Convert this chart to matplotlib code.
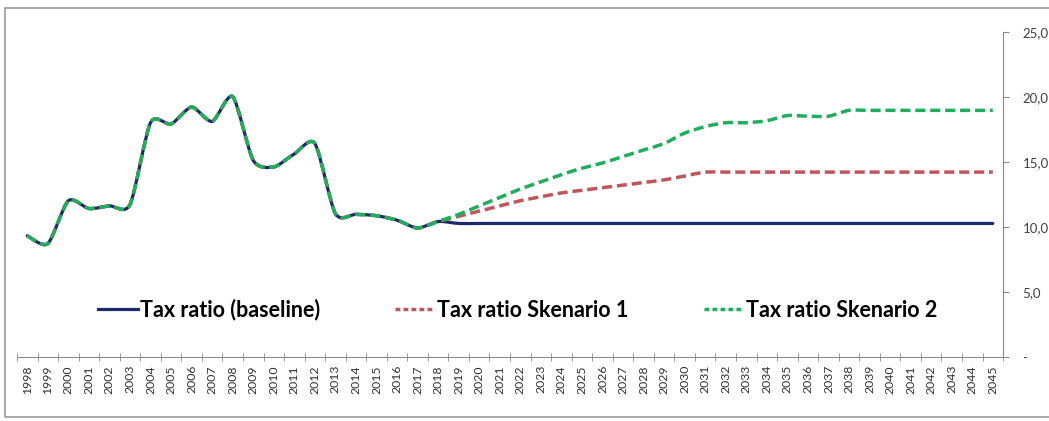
import matplotlib
matplotlib.use("Agg")
import matplotlib.pyplot as plt
from matplotlib.path import Path
from matplotlib.patches import PathPatch, Rectangle
from matplotlib.lines import Line2D

years = list(range(1998, 2046))

# Tax ratio (%)
baseline = [9.3, 8.7, 12.0, 11.4, 11.6, 11.7, 18.0, 17.9, 19.2, 18.1,
            20.0, 15.1, 14.6, 15.6, 16.4, 11.0, 10.95, 10.85, 10.5, 9.9,
            10.4, 10.25, 10.25, 10.25, 10.25, 10.25, 10.25, 10.25, 10.25, 10.25,
            10.25, 10.25, 10.25, 10.25, 10.25, 10.25, 10.25, 10.25, 10.25, 10.25,
            10.25, 10.25, 10.25, 10.25, 10.25, 10.25, 10.25, 10.25]
skenario1 = [9.3, 8.7, 12.0, 11.4, 11.6, 11.7, 18.0, 17.9, 19.2, 18.1,
             20.0, 15.1, 14.6, 15.6, 16.4, 11.0, 10.95, 10.85, 10.5, 9.9,
             10.4, 10.8, 11.2, 11.6, 12.0, 12.3, 12.6, 12.8, 13.0, 13.2,
             13.4, 13.6, 13.9, 14.2, 14.2, 14.2, 14.2, 14.2, 14.2, 14.2,
             14.2, 14.2, 14.2, 14.2, 14.2, 14.2, 14.2, 14.2]
skenario2 = [9.3, 8.7, 12.0, 11.4, 11.6, 11.7, 18.0, 17.9, 19.2, 18.1,
             20.0, 15.1, 14.6, 15.6, 16.4, 11.0, 10.95, 10.85, 10.5, 9.9,
             10.4, 10.95, 11.6, 12.25, 12.9, 13.45, 14.0, 14.5, 14.9, 15.4,
             15.9, 16.4, 17.2, 17.7, 18.0, 18.0, 18.15, 18.55, 18.5, 18.5,
             18.95, 18.95, 18.95, 18.95, 18.95, 18.95, 18.95, 18.95]

y_ticks = [0, 5, 10, 15, 20, 25]
y_labels = ["-", "5,0", "10,0", "15,0", "20,0", "25,0"]


def smooth_path(ys, k=8.0):
    # Excel-like smoothed line: cardinal spline turned into cubic Bezier pieces
    xs = list(range(len(ys)))
    n = len(ys)
    verts = [(xs[0], ys[0])]
    codes = [Path.MOVETO]
    for i in range(n - 1):
        a = max(i - 1, 0)
        d = min(i + 2, n - 1)
        c1 = (xs[i] + (xs[i + 1] - xs[a]) / k, ys[i] + (ys[i + 1] - ys[a]) / k)
        c2 = (xs[i + 1] - (xs[d] - xs[i]) / k, ys[i + 1] - (ys[d] - ys[i]) / k)
        verts += [c1, c2, (xs[i + 1], ys[i + 1])]
        codes += [Path.CURVE4] * 3
    return Path(verts, codes)


navy = "#1c2a6b"
red = "#c0555c"
green = "#1fae5c"
dash = (0, (2.9, 1.4))

fig = plt.figure(figsize=(10.49, 4.21), dpi=100)
ax = fig.add_axes([0.0162, 0.1527, 0.9400, 0.7720])

# outer chart border
fig.patches.append(Rectangle((5 / 1049, 4 / 421), 1.1, 409 / 421, transform=fig.transFigure,
                             fill=False, edgecolor="#9a9a9a", lw=1.2))

ax.add_patch(PathPatch(smooth_path(baseline), fill=False, edgecolor=navy, lw=2.3,
                       capstyle="round"))
ax.add_patch(PathPatch(smooth_path(skenario1), fill=False, edgecolor=red, lw=2.5,
                       linestyle=dash, capstyle="butt"))
ax.add_patch(PathPatch(smooth_path(skenario2), fill=False, edgecolor=green, lw=2.5,
                       linestyle=dash, capstyle="butt"))

ax.set_xlim(-0.5, len(years) - 0.5)
ax.set_ylim(0, 25)

for s in ["left", "top"]:
    ax.spines[s].set_visible(False)
ax.spines["right"].set_color("#8a8a8a")
ax.spines["bottom"].set_color("#8a8a8a")

ax.yaxis.tick_right()
ax.set_yticks(y_ticks)
ax.set_yticklabels(y_labels)
ax.tick_params(axis="y", direction="out", length=4, color="#8a8a8a", pad=10,
               labelsize=9.5, labelcolor="#404040")
for t in ax.get_yticklabels():
    t.set_family("Lato")

ax.set_xticks(range(len(years)))
ax.set_xticklabels([str(y) for y in years], rotation=90)
ax.set_xticks([i - 0.5 for i in range(len(years) + 1)], minor=True)
ax.tick_params(axis="x", which="major", length=0, pad=6, labelsize=8.8, labelcolor="#303030")
ax.tick_params(axis="x", which="minor", direction="inout", length=6, color="#8a8a8a")
for t in ax.get_xticklabels():
    t.set_family("Lato")

handles = [Line2D([], [], color=navy, lw=2.3),
           Line2D([], [], color=red, lw=2.5, linestyle=(0, (1.4, 0.9))),
           Line2D([], [], color=green, lw=2.5, linestyle=(0, (1.4, 0.9)))]
labels = ["Tax ratio (baseline)", "Tax ratio Skenario 1", "Tax ratio Skenario 2"]
ax.legend(handles, labels, loc="center", bbox_to_anchor=(0.5076, 0.144), ncol=3,
          frameon=False, handlelength=1.85, handletextpad=0.1, columnspacing=3.5,
          prop={"family": "Lato", "weight": "bold", "size": 15.5})

fig.savefig("out.png", dpi=100, facecolor="white")
